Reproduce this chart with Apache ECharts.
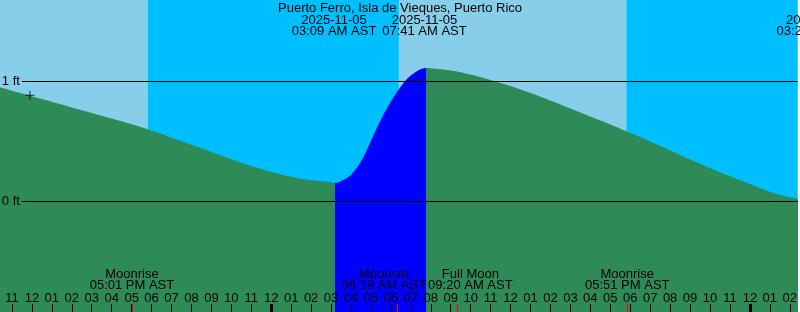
<!DOCTYPE html>
<html><head><meta charset="utf-8">
<script src="https://cdn.jsdelivr.net/npm/echarts@6/dist/echarts.min.js"></script>
<style>html,body{margin:0;padding:0;background:#fff;overflow:hidden}#c{width:800px;height:312px}</style>
</head><body><div id="c"></div>
<script>
// ---- data (hours relative to 2025-11-05 00:00 AST) ----
const stationName = 'Puerto Ferro, Isla de Vieques, Puerto Rico';
const tideHours = [-14,-13,-12,-11,-10,-9,-8,-7,-6,-5,-4,-3,-2,-1,0,1,2,3,3.2,3.5,4,4.5,5,5.5,6,6.5,7,7.75,8,9,10,11,12,13,14,15,16,17,18,19,20,21,22,23,24,25,26,27,27.45,28];
const tideFeet  = [0.971,0.923,0.877,0.831,0.784,0.738,0.691,0.643,0.591,0.532,0.472,0.412,0.353,0.296,0.246,0.206,0.177,0.160,0.155,0.168,0.222,0.333,0.505,0.682,0.832,0.958,1.050,1.113,1.110,1.092,1.058,1.012,0.962,0.904,0.842,0.775,0.708,0.642,0.572,0.499,0.425,0.351,0.279,0.210,0.146,0.082,0.035,0.012,0.010,0.013];
const floodStart = [3.2];
const floodEnd   = [7.75];
const tideEventHours = [3.15, 7.6833, 27.45];
const tideEventDates = ['2025-11-05', '2025-11-05', '2025-11-06'];
const tideEventClock = ['03:09 AM AST', '07:41 AM AST', '03:27 AM AST'];
const moonEventHours = [-6.983, 6.3, 9.333, 17.85];
const moonEventNames = ['Moonrise', 'Moonset', 'Full Moon', 'Moonrise'];
const moonEventClock = ['05:01 PM AST', '06:18 AM AST', '09:20 AM AST', '05:51 PM AST'];
const daylightStart = [-20, 6.4];
const daylightEnd   = [-6.2, 17.8];
const nightStart    = [-6.2, 17.8];
const nightEnd      = [6.4, 30];
const midnightHours = [0, 24];
const tickLabels = ['11','12','01','02','03','04','05','06','07','08','09','10','11','12','01','02','03','04','05','06','07','08','09','10','11','12','01','02','03','04','05','06','07','08','09','10','11','12','01','02'];
const tickHours = tickLabels.map((_, i) => -13 + i);
const nowHour = -12.1, nowFeet = 0.885;
const levelLines = [0, 1];
const levelLabels = ['0 ft', '1 ft'];

// ---- layout / style ----
const X_MIN = -13.6, X_MAX = 26.4;
const Y_MIN = -0.920833, Y_MAX = 1.679167;
const LINE_START = -12.5;
const FONT = '"Liberation Sans", Arial, sans-serif';
const moonLabelShift = [0, -13, 13, 0];
const DAY = '#87CEEB', NIGHT = '#00BFFF', EBB = '#2E8B57', FLOOD = '#0000FF';

const chart = echarts.init(document.getElementById('c'), null, {renderer: 'canvas'});
const tideData = tideHours.map((h, i) => [h, tideFeet[i]]);

const bands = [];
daylightStart.forEach((s, i) => bands.push([{xAxis: Math.max(s, X_MIN), itemStyle: {color: DAY}}, {xAxis: Math.min(daylightEnd[i], X_MAX)}]));
nightStart.forEach((s, i) => bands.push([{xAxis: Math.max(s, X_MIN), itemStyle: {color: NIGHT}}, {xAxis: Math.min(nightEnd[i], X_MAX)}]));

const lineData = levelLines.map((v, i) => [
  {coord: [LINE_START, v], label: {formatter: levelLabels[i]}},
  {coord: [X_MAX, v]}
]);

const baseAxis = {
  type: 'value', min: X_MIN, max: X_MAX, position: 'bottom', gridIndex: 0, offset: 0,
  axisLine: {show: false, onZero: false}, splitLine: {show: false}
};

const option = {
  animation: false,
  grid: {left: 0, right: 0, top: 0, bottom: 0, containLabel: false},
  xAxis: [
    Object.assign({}, baseAxis, {
      z: 10,
      axisTick: {show: true, inside: true, length: 8, customValues: tickHours, lineStyle: {color: '#000', width: 1}},
      axisLabel: {show: true, inside: true, margin: 14, customValues: tickHours,
        formatter: v => tickLabels[tickHours.indexOf(Math.round(v))],
        color: '#000', fontFamily: FONT, fontSize: 13, verticalAlign: 'middle'}
    }),
    Object.assign({}, baseAxis, {
      z: 11, axisLabel: {show: false},
      axisTick: {show: true, inside: true, length: 8, customValues: midnightHours, lineStyle: {color: '#000', width: 3}}
    }),
    Object.assign({}, baseAxis, {
      z: 12, axisLabel: {show: false},
      axisTick: {show: true, inside: true, length: 8, customValues: moonEventHours, lineStyle: {color: '#FF0000', width: 1}}
    })
  ],
  yAxis: {type: 'value', min: Y_MIN, max: Y_MAX, show: false, axisLine: {onZero: false}},
  visualMap: {
    type: 'piecewise', show: false, dimension: 0, seriesIndex: 1,
    pieces: floodStart.map((s, i) => ({gte: s, lte: floodEnd[i], color: FLOOD})),
    outOfRange: {color: EBB}
  },
  series: [
    {
      type: 'line', z: 1, silent: true, data: [[X_MIN, Y_MIN]], showSymbol: false,
      lineStyle: {width: 0},
      markArea: {silent: true, data: bands}
    },
    {
      type: 'line', z: 2, silent: true, data: tideData, smooth: 0.35,
      showSymbol: false, lineStyle: {width: 0},
      areaStyle: {origin: 'start', opacity: 1}
    },
    {
      type: 'scatter', z: 3, silent: true, data: [[nowHour, nowFeet]],
      symbol: 'path://M0,5L10,5M5,0L5,10', symbolSize: 9,
      itemStyle: {color: 'rgba(0,0,0,0)', borderColor: '#000', borderWidth: 1},
      markLine: {
        silent: true, symbol: 'none', animation: false,
        lineStyle: {color: '#000', width: 1, type: 'solid'},
        label: {show: true, position: 'start', distance: 2, color: '#000', fontFamily: FONT, fontSize: 13},
        emphasis: {disabled: true},
        data: lineData
      }
    }
  ]
};
chart.setOption(option);

const px = h => chart.convertToPixel({xAxisIndex: 0}, h);
const txt = (s, x, y) => ({type: 'text', z: 100, x: x, y: y, silent: true,
  style: {text: s, font: '13px ' + FONT, fill: '#000', align: 'center', verticalAlign: 'middle'}});
const g = [txt(stationName, 400, 8)];
tideEventHours.forEach((h, i) => {
  g.push(txt(tideEventDates[i], px(h), 20));
  g.push(txt(tideEventClock[i], px(h), 31.5));
});
moonEventHours.forEach((h, i) => {
  const x = px(h) + moonLabelShift[i];
  g.push(txt(moonEventNames[i], x, 274));
  g.push(txt(moonEventClock[i], x, 285.5));
});
chart.setOption({graphic: g});
</script></body></html>
